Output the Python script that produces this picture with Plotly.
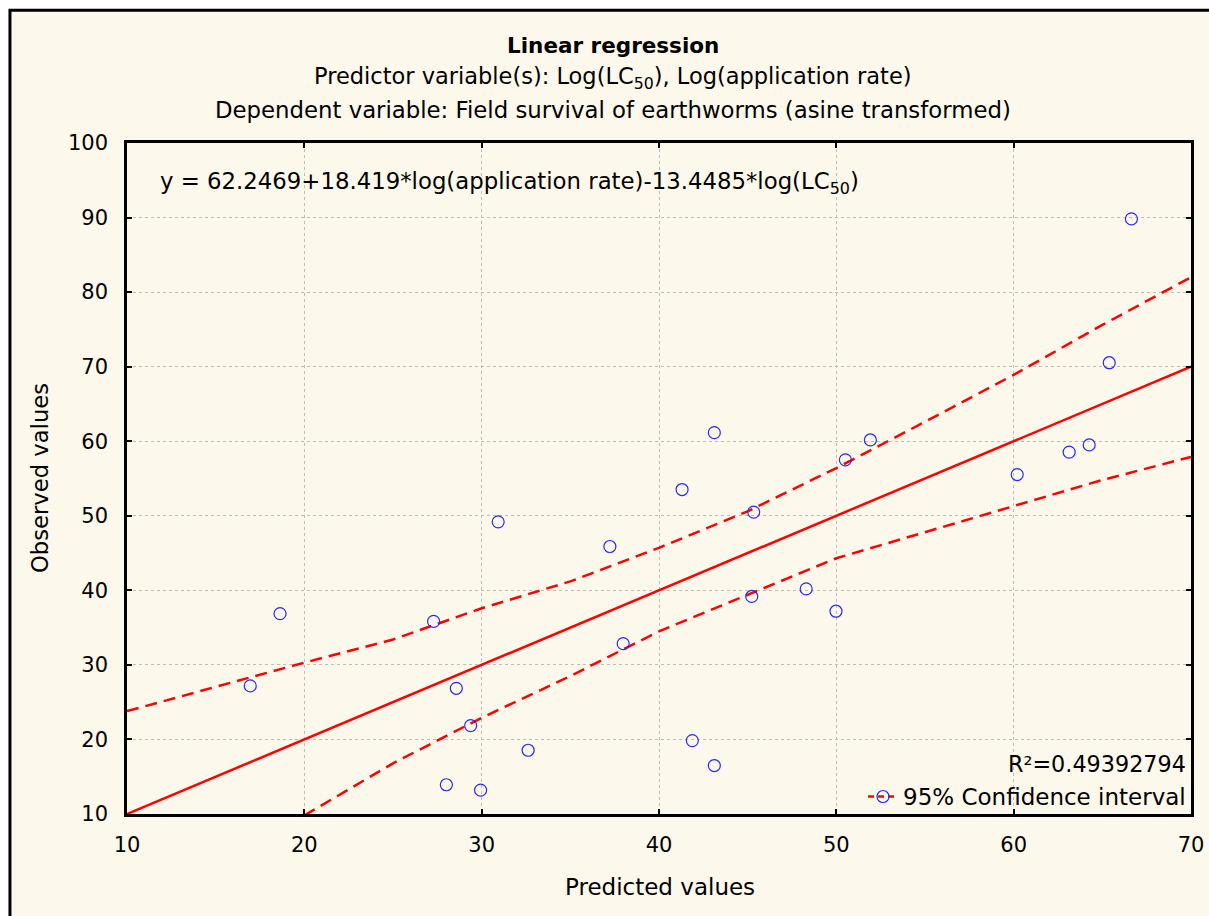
import plotly.graph_objects as go

# predicted vs observed
predicted = [16.95, 18.63, 27.29, 28.57, 28.01, 29.38, 29.94, 30.93, 32.62, 37.23, 37.98, 41.30, 41.88,
             43.12, 43.12, 45.23, 45.34, 48.30, 49.98, 50.51, 51.92, 60.20, 63.13, 64.26, 65.39, 66.64]
observed = [27.18, 36.87, 35.83, 26.86, 13.92, 21.86, 13.20, 49.19, 18.55, 45.88, 32.85, 53.52, 19.85,
            61.15, 16.50, 39.18, 50.49, 40.19, 37.20, 57.50, 60.17, 55.53, 58.53, 59.50, 70.53, 89.82]

# fitted line (observed = predicted)
fit_x = [10, 70]
fit_y = [10, 70]

# 95% confidence band
ci_up_x = [10, 15, 20, 25, 30, 35, 40, 45, 50, 55, 60, 65, 70]
ci_up_y = [23.8, 27.1, 30.3, 33.4, 37.6, 41.2, 45.7, 50.6, 56.4, 62.6, 68.9, 75.6, 82.0]
ci_lo_x = [20, 25, 30, 35, 40, 45, 50, 55, 60, 65, 70]
ci_lo_y = [9.8, 16.8, 22.9, 28.5, 34.5, 39.4, 44.3, 47.8, 51.3, 54.8, 57.9]

x_ticks = [10, 20, 30, 40, 50, 60, 70]
y_ticks = [10, 20, 30, 40, 50, 60, 70, 80, 90, 100]

FONT = "DejaVu Sans"
RED = "#FF0000"
BLUE = "#2828FF"
DASH = "12px,7px"

fig = go.Figure()

fig.add_trace(go.Scatter(x=ci_up_x, y=ci_up_y, mode="lines", showlegend=False,
                         line=dict(color=RED, width=2.5, dash=DASH)))
fig.add_trace(go.Scatter(x=ci_lo_x, y=ci_lo_y, mode="lines", showlegend=False,
                         line=dict(color=RED, width=2.5, dash=DASH)))
fig.add_trace(go.Scatter(x=fit_x, y=fit_y, mode="lines", showlegend=False,
                         line=dict(color=RED, width=2.5)))
fig.add_trace(go.Scatter(x=predicted, y=observed, mode="markers", showlegend=False,
                         marker=dict(symbol="circle-open", size=12, color=BLUE, line=dict(width=1.2))))
# legend entry only
fig.add_trace(go.Scatter(x=[None], y=[None], mode="lines+markers", name="95% Confidence interval",
                         line=dict(color=RED, width=2.5, dash="6px,4px"),
                         marker=dict(symbol="circle-open", size=12, color=BLUE, line=dict(width=1.2))))

axis_common = dict(
    showline=True, linecolor="black", linewidth=2.5, mirror="ticks",
    ticks="inside", ticklen=5, tickwidth=2, tickcolor="black",
    showgrid=True, gridcolor="#BDBDBD", griddash="dot", gridwidth=1,
    zeroline=False, automargin=False,
    tickfont=dict(family=FONT, size=21, color="black"),
)

fig.update_xaxes(range=[10, 70], tickvals=x_ticks, ticklabelstandoff=10, **axis_common)
fig.update_yaxes(range=[10, 100], tickvals=y_ticks, ticklabelstandoff=12, **axis_common)

ann = [
    dict(text="<b>Linear regression</b>", x=0.457, y=1.1455, size=21.5),
    dict(text="Predictor variable(s): Log(LC<sub>50</sub>), Log(application rate)",
         x=0.457, y=1.097, size=22.5),
    dict(text="Dependent variable: Field survival of earthworms (asine transformed)",
         x=0.457, y=1.0498, size=22.8),
    dict(text="y = 62.2469+18.419*log(application rate)-13.4485*log(LC<sub>50</sub>)",
         x=0.0294, y=0.940, xanchor="left", size=22.8),
    dict(text="R²=0.49392794", x=0.997, y=0.075, xanchor="right", size=22.3),
    dict(text="Observed values", x=-0.0815, y=0.501, textangle=-90, size=22.7),
    dict(text="Predicted values", x=0.501, y=-0.1094, size=23),
]
for a in ann:
    size = a.pop("size")
    a.setdefault("xanchor", "center")
    fig.add_annotation(xref="paper", yref="paper", yanchor="middle", showarrow=False,
                       font=dict(family=FONT, size=size, color="black"), **a)

fig.update_layout(
    width=1209, height=916,
    margin=dict(l=127, r=18, t=143, b=102),
    paper_bgcolor="white",
    plot_bgcolor="white",
    font=dict(family=FONT, size=21, color="black"),
    legend=dict(x=1.0, y=0.026, xanchor="right", yanchor="middle",
                bgcolor="rgba(0,0,0,0)", borderwidth=0,
                font=dict(family=FONT, size=23, color="black"),
                itemwidth=30),
    shapes=[dict(type="rect", xref="paper", yref="paper",
                 x0=-0.110, x1=1.03, y0=-0.17, y1=1.198,
                 fillcolor="#FDF8EC",
                 line=dict(color="black", width=3), layer="below")],
)

# page body margin off so the figure sits at the window origin
fig.write_html("out.html", config={"displayModeBar": False},
               post_script="document.body.style.margin='0';")
